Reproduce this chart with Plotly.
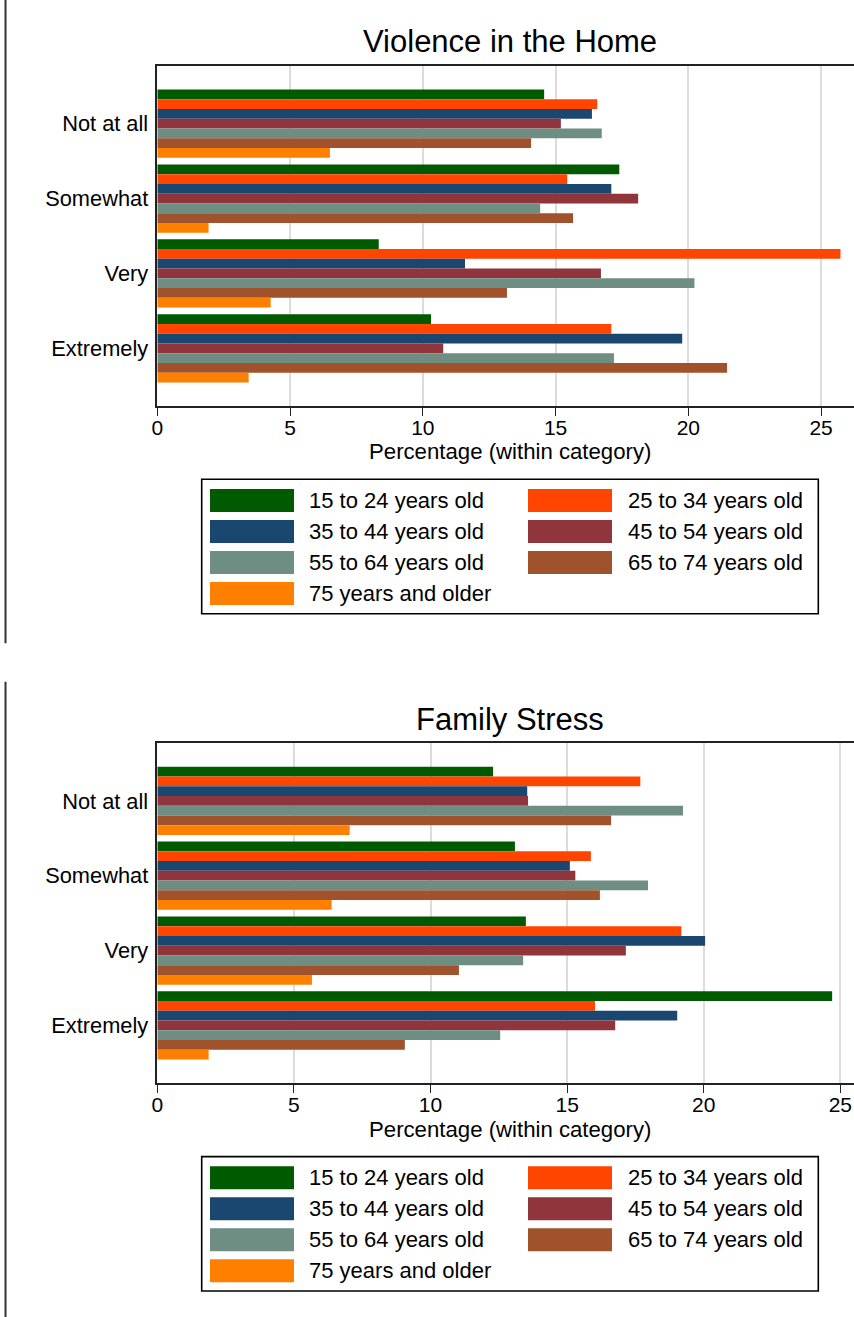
import plotly.graph_objects as go

categories = ["Not at all", "Somewhat", "Very", "Extremely"]
age_groups = ["15 to 24 years old", "25 to 34 years old", "35 to 44 years old",
              "45 to 54 years old", "55 to 64 years old", "65 to 74 years old",
              "75 years and older"]
colors = ["#005a00", "#ff4500", "#1a476f", "#90353b", "#6e8e84", "#a0522d", "#ff7f00"]
x_ticks = [0, 5, 10, 15, 20, 25]

# Panel 1: Violence in the Home (Not at all, Somewhat, Very, Extremely)
violence_15_24 = [14.57, 17.40, 8.34, 10.31]
violence_25_34 = [16.57, 15.44, 25.73, 17.10]
violence_35_44 = [16.37, 17.10, 11.59, 19.77]
violence_45_54 = [15.20, 18.11, 16.71, 10.77]
violence_55_64 = [16.74, 14.42, 20.23, 17.20]
violence_65_74 = [14.08, 15.66, 13.17, 21.46]
violence_75_up = [6.50, 1.93, 4.27, 3.44]

# Panel 2: Family Stress
stress_15_24 = [12.29, 13.09, 13.49, 24.70]
stress_25_34 = [17.68, 15.87, 19.18, 16.02]
stress_35_44 = [13.54, 15.10, 20.05, 19.03]
stress_45_54 = [13.57, 15.30, 17.15, 16.76]
stress_55_64 = [19.24, 17.96, 13.39, 12.55]
stress_65_74 = [16.61, 16.20, 11.04, 9.06]
stress_75_up = [7.04, 6.38, 5.66, 1.88]

violence = [violence_15_24, violence_25_34, violence_35_44, violence_45_54,
            violence_55_64, violence_65_74, violence_75_up]
stress = [stress_15_24, stress_25_34, stress_35_44, stress_45_54,
          stress_55_64, stress_65_74, stress_75_up]

W, H = 854, 1317
FONT = "Liberation Sans, Arial, sans-serif"

def px_x(p):
    return p / W

def px_y(p):
    return 1 - p / H

fig = go.Figure()

for series, xa, ya in [(violence, "x", "y"), (stress, "x2", "y2")]:
    for name, vals, col in zip(age_groups, series, colors):
        fig.add_trace(go.Bar(
            y=categories, x=vals, orientation="h", name=name,
            marker=dict(color=col, line=dict(width=0)),
            xaxis=xa, yaxis=ya, showlegend=False,
        ))

axis_common_x = dict(
    tickmode="array", tickvals=x_ticks, ticks="outside", ticklen=8, tickwidth=1.3,
    tickcolor="#222", showgrid=True, gridcolor="#dcdcdc", gridwidth=1.5,
    showline=True, linecolor="#222", linewidth=1.5, mirror=True, zeroline=False,
    automargin=False, ticklabelstandoff=-6,
    tickfont=dict(family=FONT, size=21, color="#000"),
)
axis_common_y = dict(
    type="category", categoryorder="array", categoryarray=categories,
    range=[3.77, -0.77], showgrid=False, showline=True, linecolor="#222",
    linewidth=1.5, ticks="", ticklabelstandoff=3, zeroline=False, automargin=False,
    tickfont=dict(family=FONT, size=21.8, color="#000"),
)

x_left = px_x(157.3)
fig.update_layout(
    width=W, height=H, margin=dict(l=0, r=0, t=0, b=0, pad=0, autoexpand=False),
    paper_bgcolor="white", plot_bgcolor="white",
    barmode="group", bargap=0.088, bargroupgap=0,
    showlegend=False,
    xaxis=dict(domain=[x_left, 1], range=[0, 26.24], anchor="y", **axis_common_x),
    yaxis=dict(domain=[px_y(406), px_y(66)], anchor="x", **axis_common_y),
    xaxis2=dict(domain=[x_left, 1], range=[0, 25.5], anchor="y2", **axis_common_x),
    yaxis2=dict(domain=[px_y(1083), px_y(743.3)], anchor="x2", **axis_common_y),
    font=dict(family=FONT, color="#000"),
)

annotations = []
shapes = []

# left border lines
shapes.append(dict(type="line", xref="paper", yref="paper", x0=px_x(5.5), x1=px_x(5.5),
                   y0=px_y(0), y1=px_y(643.3), line=dict(color="#333", width=2)))
shapes.append(dict(type="line", xref="paper", yref="paper", x0=px_x(5.5), x1=px_x(5.5),
                   y0=px_y(681.7), y1=px_y(1317), line=dict(color="#333", width=2)))

titles = ["Violence in the Home", "Family Stress"]
for i, title in enumerate(titles):
    off = 677.3 * i
    annotations.append(dict(text=title, xref="paper", yref="paper", x=px_x(510),
                            y=px_y(42 + off), xanchor="center", yanchor="middle",
                            showarrow=False, font=dict(family=FONT, size=31, color="#000")))
    annotations.append(dict(text="Percentage (within category)", xref="paper", yref="paper",
                            x=px_x(510), y=px_y(452 + off), xanchor="center", yanchor="middle",
                            showarrow=False, font=dict(family=FONT, size=22.2, color="#000")))
    # legend box
    shapes.append(dict(type="rect", xref="paper", yref="paper",
                       x0=px_x(201.7), x1=px_x(818.3), y0=px_y(479.3 + off), y1=px_y(613.7 + off),
                       line=dict(color="#000", width=1.6), fillcolor="white"))
    row_centers = [500.5, 531.5, 562.5, 593.5]
    col_sw = [210, 528]
    col_tx = [307, 626]
    for k, (name, col) in enumerate(zip(age_groups, colors)):
        r, c = divmod(k, 2)
        cy = row_centers[r] + off
        shapes.append(dict(type="rect", xref="paper", yref="paper",
                           x0=px_x(col_sw[c]), x1=px_x(col_sw[c] + 84),
                           y0=px_y(cy - 11.5), y1=px_y(cy + 11.5),
                           line=dict(width=0), fillcolor=col))
        annotations.append(dict(text=name, xref="paper", yref="paper", x=px_x(col_tx[c]),
                                y=px_y(cy), xanchor="left", yanchor="middle", showarrow=False,
                                font=dict(family=FONT, size=22, color="#000")))

fig.update_layout(annotations=annotations, shapes=shapes)

fig.write_html("out.html", config={"displayModeBar": False},
               post_script="document.body.style.margin='0';")
